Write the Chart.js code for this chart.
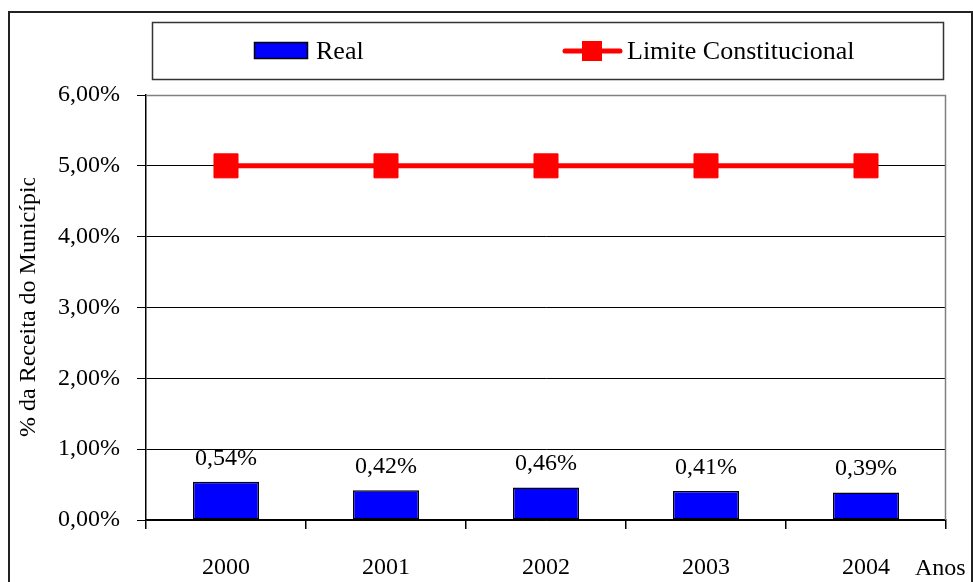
<!DOCTYPE html>
<html>
<head>
<meta charset="utf-8">
<script src="https://cdn.jsdelivr.net/npm/chart.js@4.4.1/dist/chart.umd.min.js"></script>
<style>
  html, body { margin: 0; padding: 0; background: #fff; }
  #wrap { width: 973px; height: 582px; position: relative; }
</style>
</head>
<body>
<div id="wrap"><canvas id="c" width="973" height="582"></canvas></div>
<script>
// Data
const years = ['2000', '2001', '2002', '2003', '2004'];
const realValues = [0.54, 0.42, 0.46, 0.41, 0.39];
const limitValues = [5, 5, 5, 5, 5];
const yTickValues = [0, 1, 2, 3, 4, 5, 6];

const seriesNames = ['Real', 'Limite Constitucional'];
const yTitle = '% da Receita do Município';
const xTitle = 'Anos';

const FONT = '"Liberation Serif", "Times New Roman", serif';
const fmt = v => v.toFixed(2).replace('.', ',') + '%';

// Frame, legend box, plot border, axis titles and value labels
const decorations = {
  id: 'decorations',
  beforeDraw(chart) {
    const ctx = chart.ctx;
    ctx.save();
    ctx.fillStyle = '#fff';
    ctx.fillRect(0, 0, chart.width, chart.height);
    ctx.restore();
  },
  afterDatasetsDraw(chart) {
    const ctx = chart.ctx;
    const a = chart.chartArea;
    const ds = chart.data.datasets;
    ctx.save();

    // plot area border (top and right in grey)
    ctx.strokeStyle = '#808080';
    ctx.lineWidth = 1.5;
    ctx.beginPath();
    ctx.moveTo(a.left, a.top + 0.5);
    ctx.lineTo(a.right - 0.5, a.top + 0.5);
    ctx.lineTo(a.right - 0.5, a.bottom);
    ctx.stroke();

    // value labels above the bars
    const barMeta = chart.getDatasetMeta(0);
    ctx.fillStyle = '#000';
    ctx.font = '24px ' + FONT;
    ctx.textAlign = 'center';
    ctx.textBaseline = 'alphabetic';
    barMeta.data.forEach((bar, i) => {
      ctx.fillText(fmt(ds[0].data[i]), bar.x, bar.y - 17);
    });

    // x axis title
    ctx.textAlign = 'left';
    ctx.fillText(xTitle, 915, 575);

    // y axis title (clipped at the top)
    ctx.save();
    ctx.beginPath();
    ctx.rect(0, 178, 60, 400);
    ctx.clip();
    ctx.translate(35, 437);
    ctx.rotate(-Math.PI / 2);
    ctx.font = '24px ' + FONT;
    ctx.textAlign = 'left';
    ctx.fillText(yTitle, 0, 0);
    ctx.restore();

    // outer frame
    ctx.strokeStyle = '#222';
    ctx.lineWidth = 2;
    ctx.strokeRect(9, 12, 963, 600);

    // legend box
    ctx.strokeStyle = '#333';
    ctx.lineWidth = 1.5;
    ctx.strokeRect(152.5, 22.5, 791, 57);

    const ly = 51;
    // bar entry
    ctx.fillStyle = ds[0].backgroundColor;
    ctx.fillRect(254, 42, 54, 17);
    ctx.strokeStyle = '#000';
    ctx.lineWidth = 1.5;
    ctx.strokeRect(254.5, 42.5, 53, 16);
    ctx.fillStyle = '#000';
    ctx.font = '26px ' + FONT;
    ctx.textBaseline = 'middle';
    ctx.fillText(ds[0].label, 316, ly + 1);
    // line entry
    ctx.strokeStyle = ds[1].borderColor;
    ctx.lineWidth = 5;
    ctx.lineCap = 'round';
    ctx.beginPath();
    ctx.moveTo(565, ly);
    ctx.lineTo(620, ly);
    ctx.stroke();
    ctx.fillStyle = ds[1].pointBackgroundColor;
    ctx.fillRect(582, ly - 10, 20, 20);
    ctx.fillStyle = '#000';
    ctx.fillText(ds[1].label, 627, ly + 1);

    ctx.restore();
  }
};

new Chart(document.getElementById('c'), {
  type: 'bar',
  data: {
    labels: years,
    datasets: [
      {
        label: seriesNames[0],
        data: realValues,
        backgroundColor: '#0000ff',
        borderColor: '#000',
        borderWidth: 1.5,
        borderSkipped: false,
        barPercentage: 0.4125,
        categoryPercentage: 1,
        order: 1
      },
      {
        type: 'line',
        label: seriesNames[1],
        data: limitValues,
        borderColor: '#ff0000',
        borderWidth: 5,
        pointStyle: 'rect',
        pointRadius: 17,
        pointBackgroundColor: '#ff0000',
        pointBorderColor: '#ff0000',
        pointBorderWidth: 1,
        pointHoverRadius: 17,
        order: 0
      }
    ]
  },
  options: {
    responsive: false,
    animation: false,
    events: [],
    layout: { padding: { top: 95, right: 27, left: 0, bottom: 0 } },
    plugins: {
      legend: { display: false },
      tooltip: { enabled: false },
      title: { display: false }
    },
    scales: {
      x: {
        offset: true,
        grid: {
          offset: true,
          drawOnChartArea: false,
          drawTicks: true,
          tickLength: 9,
          color: '#000',
          lineWidth: 1.5
        },
        border: { display: true, color: '#000', width: 1.5 },
        ticks: {
          color: '#000',
          font: { family: FONT, size: 24 },
          padding: 24,
          maxRotation: 0
        },
        afterFit(scale) { scale.height = 62; }
      },
      y: {
        min: 0,
        max: 6,
        afterBuildTicks(scale) {
          scale.ticks = yTickValues.map(v => ({ value: v }));
        },
        grid: {
          color: ctx => (ctx.tick && ctx.tick.value === 6 && ctx.type !== 'tick') ? '#808080' : '#000',
          lineWidth: 1,
          tickLength: 9,
          drawTicks: true
        },
        border: { display: true, color: '#000', width: 1.5 },
        ticks: {
          color: '#000',
          font: { family: FONT, size: 24 },
          padding: 17,
          callback: v => fmt(v)
        },
        afterFit(scale) { scale.width = 146; }
      }
    }
  },
  plugins: [decorations]
});
</script>
</body>
</html>
